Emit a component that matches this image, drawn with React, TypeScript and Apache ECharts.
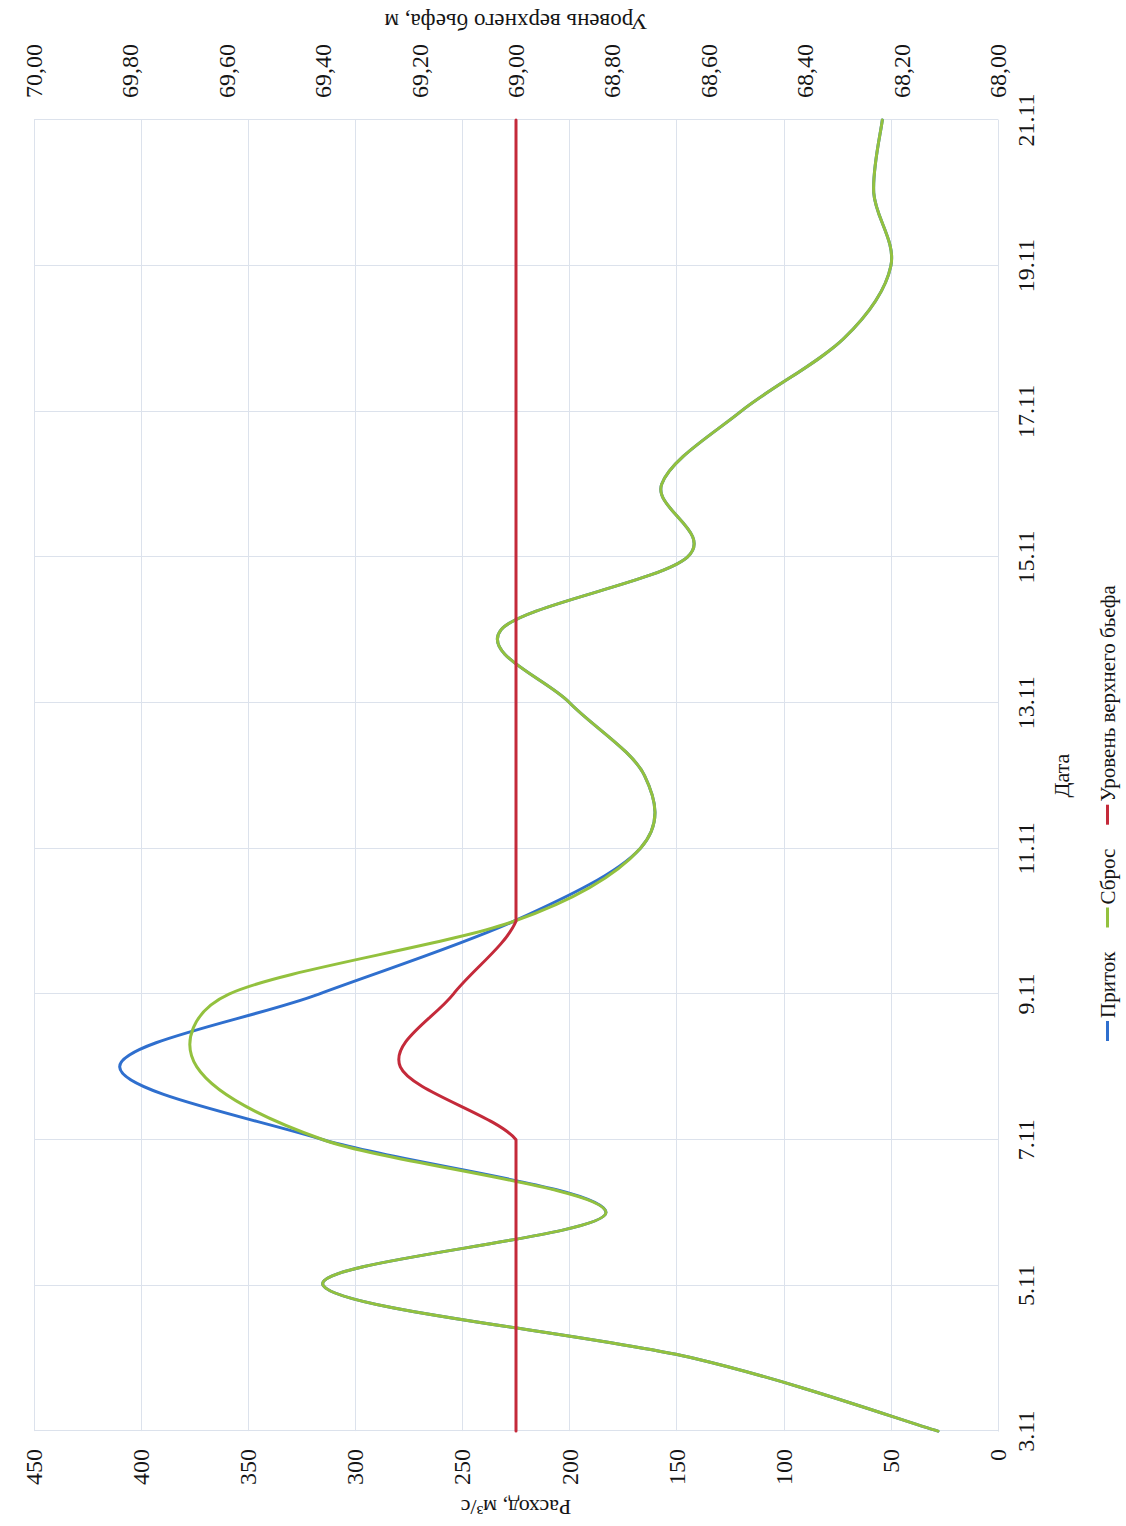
import React, { useEffect, useRef } from "react";
import * as echarts from "echarts";

// Dates (category axis), values per day
const dates = [
  "3.11", "4.11", "5.11", "6.11", "7.11", "8.11", "9.11", "10.11", "11.11", "12.11",
  "13.11", "14.11", "15.11", "16.11", "17.11", "18.11", "19.11", "20.11", "21.11",
];
const inflow = [28, 142, 315, 183, 315, 410, 317, 226, 167, 165, 200, 232, 145, 157, 120, 72, 50, 58, 54];
const discharge = [28, 142, 315, 183, 315, 374, 359, 226, 167, 165, 200, 232, 145, 157, 120, 72, 50, 58, 54];
const level = [69.0, 69.0, 69.0, 69.0, 69.0, 69.24, 69.13, 69.0, 69.0, 69.0, 69.0, 69.0, 69.0, 69.0, 69.0, 69.0, 69.0, 69.0, 69.0];

const seriesNames = ["Приток", "Сброс", "Уровень верхнего бьефа"];
const colors = ["#2f6fce", "#93c13e", "#c42a3a"];

const W = 1526;
const H = 1126;

// A single continuous path made of cubic Bezier segments
const SmoothLine = (echarts.graphic as any).extendShape({
  type: "smoothLine",
  shape: { segs: [] as number[][] },
  buildPath(ctx: any, shape: any) {
    const segs = shape.segs as number[][];
    if (!segs || !segs.length) return;
    ctx.moveTo(segs[0][0], segs[0][1]);
    for (const s of segs) ctx.bezierCurveTo(s[2], s[3], s[4], s[5], s[6], s[7]);
  },
});
(echarts.graphic as any).registerShape("smoothLine", SmoothLine);

// Excel-like smoothing: control arms = 1/6 of the neighbour chord, limited to
// half of the segment; flat segments stay straight.
function smoothRender(values: number[], color: string, f: number) {
  return (params: any, api: any) => {
    if (params.dataIndex !== 0) return null;
    const n = values.length;
    const P = (k: number) => {
      const kk = Math.max(0, Math.min(n - 1, k));
      return api.coord([kk, values[kk]]);
    };
    const segs: number[][] = [];
    for (let i = 0; i < n - 1; i++) {
      const p0 = P(i - 1);
      const p1 = P(i);
      const p2 = P(i + 1);
      const p3 = P(i + 2);
      if (values[i] === values[i + 1]) {
        segs.push([p1[0], p1[1], p1[0], p1[1], p2[0], p2[1], p2[0], p2[1]]);
        continue;
      }
      const d12 = Math.hypot(p2[0] - p1[0], p2[1] - p1[1]);
      const t1 = [p2[0] - p0[0], p2[1] - p0[1]];
      const t2 = [p3[0] - p1[0], p3[1] - p1[1]];
      const l1 = Math.hypot(t1[0], t1[1]) || 1;
      const l2 = Math.hypot(t2[0], t2[1]) || 1;
      const f1 = l1 * f > d12 / 2 ? d12 / 2 / l1 : f;
      const f2 = l2 * f > d12 / 2 ? d12 / 2 / l2 : f;
      segs.push([
        p1[0],
        p1[1],
        p1[0] + t1[0] * f1,
        p1[1] + t1[1] * f1,
        p2[0] - t2[0] * f2,
        p2[1] - t2[1] * f2,
        p2[0],
        p2[1],
      ]);
    }
    return {
      type: "smoothLine",
      silent: true,
      shape: { segs },
      style: { stroke: color, lineWidth: 3, fill: "none", lineJoin: "round", lineCap: "round" },
    };
  };
}

function curveSeries(name: string, values: number[], color: string, yAxisIndex: number, f: number) {
  return {
    name,
    type: "custom",
    coordinateSystem: "cartesian2d",
    yAxisIndex,
    data: values.map((v, i) => [i, v]),
    encode: { x: 0, y: 1 },
    itemStyle: { color },
    renderItem: smoothRender(values, color, f),
  };
}

export default function App() {
  const ref = useRef<HTMLDivElement>(null);

  useEffect(() => {
    document.body.style.margin = "0";
    const chart = echarts.init(ref.current as HTMLDivElement, undefined, {
      renderer: "svg",
      width: W,
      height: H,
    });
    const font = "Liberation Serif";
    const gridColor = "#dce2ec";
    const txt = "#151515";

    chart.setOption({
      animation: false,
      backgroundColor: "#ffffff",
      textStyle: { fontFamily: font, color: txt },
      grid: { left: 94, right: 120, top: 34, bottom: 128 },
      legend: {
        left: 480,
        top: 1092,
        icon: "rect",
        itemWidth: 20,
        itemHeight: 3,
        itemGap: 24,
        data: seriesNames.map((n, i) => ({ name: n, itemStyle: { color: colors[i] } })),
        textStyle: { fontFamily: font, fontSize: 21, color: txt, padding: [0, 0, 0, -2] },
      },
      xAxis: {
        type: "category",
        data: dates,
        boundaryGap: false,
        name: "Дата",
        nameLocation: "middle",
        nameGap: 52,
        nameTextStyle: { fontFamily: font, fontSize: 22, color: txt },
        axisLine: { show: true, lineStyle: { color: gridColor, width: 1 } },
        axisTick: { show: false },
        axisLabel: { interval: 1, margin: 16, fontSize: 24, fontFamily: font, color: txt },
        splitLine: { show: true, interval: 1, lineStyle: { color: gridColor, width: 1 } },
      },
      yAxis: [
        {
          type: "value",
          min: 0,
          max: 450,
          interval: 50,
          name: "Расход, м³/с",
          nameLocation: "middle",
          nameGap: 60,
          nameTextStyle: { fontFamily: font, fontSize: 22, color: txt },
          axisLine: { show: false },
          axisTick: { show: false },
          axisLabel: { margin: 18, fontSize: 24, fontFamily: font, color: txt },
          splitLine: { show: true, lineStyle: { color: gridColor, width: 1 } },
        },
        {
          type: "value",
          position: "right",
          min: 68,
          max: 70,
          interval: 0.2,
          name: "Уровень верхнего бьефа, м",
          nameLocation: "middle",
          nameGap: 86,
          nameTextStyle: { fontFamily: font, fontSize: 23, color: txt },
          axisLine: { show: false },
          axisTick: { show: false },
          axisLabel: {
            margin: 22,
            fontSize: 24,
            fontFamily: font,
            color: txt,
            formatter: (v: number) => v.toFixed(2).replace(".", ","),
          },
          splitLine: { show: false },
        },
      ],
      series: [
        curveSeries(seriesNames[0], inflow, colors[0], 0, 1 / 6),
        curveSeries(seriesNames[1], discharge, colors[1], 0, 1 / 6),
        curveSeries(seriesNames[2], level, colors[2], 1, 1 / 6),
      ],
    });

    return () => chart.dispose();
  }, []);

  return (
    <div
      style={{
        position: "absolute",
        left: 0,
        top: 0,
        width: H,
        height: W,
        overflow: "hidden",
        background: "#ffffff",
      }}
    >
      <div
        ref={ref}
        style={{
          position: "absolute",
          left: 0,
          top: 0,
          width: W,
          height: H,
          transformOrigin: "0 0",
          transform: `translateY(${W}px) rotate(-90deg)`,
        }}
      />
    </div>
  );
}
